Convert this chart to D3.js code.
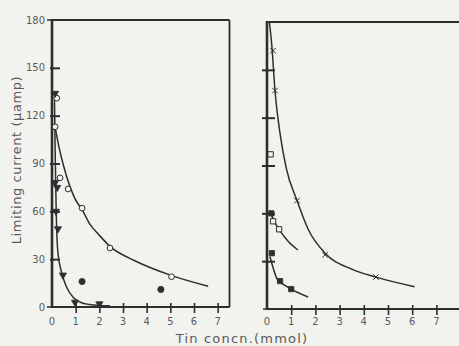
<!DOCTYPE html>
<html>
<head>
<meta charset="utf-8">
<script src="https://cdn.jsdelivr.net/npm/d3@7"></script>
<style>
  html, body { margin: 0; padding: 0; background: #f2f2ef; }
  svg { display: block; }
</style>
</head>
<body>
<div id="chart"></div>
<script>
// ticks
const xTicks = [0, 1, 2, 3, 4, 5, 6, 7];
const yTicks = [0, 30, 60, 90, 120, 150, 180];

// left panel: curves
const leftUpperCurve = [[0.13,113],[0.3,100],[0.5,88],[0.97,68],[1.27,61],[1.6,52],[2.0,45],[2.45,38],[3.5,29],[5.0,20],[6.6,13]];
const leftLowerCurve = [[0.1,135],[0.14,92],[0.18,58],[0.25,34],[0.4,22],[0.6,13],[0.9,6],[1.2,3],[1.6,1.5],[2.0,1],[2.45,0.8]];
// left panel: markers
const leftOpenCircles = [[0.2,131],[0.13,113],[0.34,81],[0.68,74],[1.27,62],[2.45,37],[5.05,19]];
const leftFilledCircles = [[1.27,16],[4.6,11]];
const leftFilledTriangles = [[0.13,134],[0.13,78],[0.22,75],[0.17,60],[0.25,49],[0.46,20],[0.97,3],[2.0,2]];

// right panel: curves
const rightUpperCurve = [[0.1,180],[0.2,165],[0.33,137],[0.54,110],[0.8,88],[1.24,68],[1.7,50],[2.4,35],[3.5,25],[4.5,20],[6.1,14]];
const rightMiddleCurve = [[0.15,60],[0.3,55],[0.54,49],[0.9,42],[1.28,37]];
const rightLowerCurve = [[0.12,33],[0.25,26],[0.41,19],[0.54,17],[1.0,12.5],[1.7,7.5]];
// right panel: markers
const rightCrosses = [[0.25,162],[0.33,137],[1.24,68],[2.4,34],[4.5,20]];
const rightOpenSquares = [[0.15,97],[0.25,55],[0.5,50]];
const rightFilledSquares = [[0.18,60],[0.2,35],[0.54,17.5],[1.0,12.5]];

const W = 459, H = 346;
const ink = "#2e2e2e";
const bg = "#f2f2ef";
const textColor = "#5a5a5a";
const font = "'DejaVu Sans', sans-serif";

const svg = d3.select("#chart").append("svg")
  .attr("width", W).attr("height", H)
  .style("background", bg);

const panels = [
  { x: d3.scaleLinear().domain([0, 7.5]).range([52, 229.5]),
    y: d3.scaleLinear().domain([0, 180]).range([307, 20]),
    labels: true, rightBorder: true, xEnd: 229.5 },
  { x: d3.scaleLinear().domain([0, 8]).range([267, 460.6]),
    y: d3.scaleLinear().domain([0, 180]).range([309, 22]),
    labels: false, rightBorder: false, xEnd: 459 }
];

function drawPanel(p) {
  const g = svg.append("g");
  const x0 = p.x(0), y0 = p.y(0), yTop = p.y(180);

  // y axis ticks (crossing the axis line)
  const yAxis = g.append("g")
    .attr("transform", `translate(${x0},0)`)
    .call(d3.axisLeft(p.y).tickValues(yTicks.filter(v => v > 0 && v < 180)).tickSize(0)
      .tickFormat(""));
  yAxis.select(".domain").remove();
  yAxis.selectAll("line")
    .attr("x1", p.labels ? -2 : -5)
    .attr("x2", 8)
    .attr("stroke", ink).attr("stroke-width", 2);

  if (p.labels) {
    g.selectAll(".ylab").data(yTicks).enter().append("text")
      .attr("x", x0 - 7)
      .attr("y", d => p.y(d) + 3.5)
      .attr("text-anchor", "end")
      .attr("font-family", font)
      .attr("font-size", 10)
      .attr("fill", textColor)
      .text(d => d);
    // short outside ticks for 0 and 180
    g.selectAll(".yend").data([0, 180]).enter().append("line")
      .attr("x1", x0 - 5).attr("x2", x0)
      .attr("y1", d => p.y(d)).attr("y2", d => p.y(d))
      .attr("stroke", ink).attr("stroke-width", 1.5);
  } else {
    g.append("line")
      .attr("x1", x0 - 4).attr("x2", x0)
      .attr("y1", y0).attr("y2", y0)
      .attr("stroke", ink).attr("stroke-width", 1.5);
  }

  // x axis
  const xAxis = g.append("g")
    .attr("transform", `translate(0,${y0})`)
    .call(d3.axisBottom(p.x).tickValues(xTicks.filter(v => v > 0)).tickSize(0).tickFormat(""));
  xAxis.select(".domain").remove();
  xAxis.selectAll("line")
    .attr("y1", -4).attr("y2", 6)
    .attr("stroke", ink).attr("stroke-width", 1.6);

  g.selectAll(".xlab").data(xTicks).enter().append("text")
    .attr("x", d => p.x(d))
    .attr("y", 325)
    .attr("text-anchor", "middle")
    .attr("font-family", font)
    .attr("font-size", 10)
    .attr("fill", textColor)
    .text(d => d);

  // frame
  g.append("line").attr("x1", x0).attr("x2", p.xEnd).attr("y1", y0).attr("y2", y0)
    .attr("stroke", ink).attr("stroke-width", 2);
  g.append("line").attr("x1", x0).attr("x2", p.xEnd).attr("y1", yTop).attr("y2", yTop)
    .attr("stroke", ink).attr("stroke-width", 1.8);
  g.append("line").attr("x1", x0).attr("x2", x0).attr("y1", yTop - 1).attr("y2", y0 + 1)
    .attr("stroke", ink).attr("stroke-width", 2.6);
  if (p.rightBorder) {
    g.append("line").attr("x1", p.xEnd).attr("x2", p.xEnd).attr("y1", yTop).attr("y2", y0)
      .attr("stroke", ink).attr("stroke-width", 1.8);
  }
  return g;
}

function drawCurve(g, p, pts) {
  const line = d3.line()
    .x(d => p.x(d[0]))
    .y(d => p.y(d[1]))
    .curve(d3.curveMonotoneX);
  g.append("path").datum(pts)
    .attr("fill", "none")
    .attr("stroke", ink)
    .attr("stroke-width", 1.5)
    .attr("d", line);
}

function drawMarkers(g, p, pts, type, filled, size, rotate) {
  const sym = d3.symbol().type(type).size(size);
  g.selectAll(null).data(pts).enter().append("path")
    .attr("d", sym)
    .attr("transform", d => `translate(${p.x(d[0])},${p.y(d[1])}) rotate(${rotate || 0})`)
    .attr("fill", filled ? ink : bg)
    .attr("stroke", ink)
    .attr("stroke-width", filled ? 0.8 : 1);
}

const gL = drawPanel(panels[0]);
drawCurve(gL, panels[0], leftUpperCurve);
drawCurve(gL, panels[0], leftLowerCurve);
drawMarkers(gL, panels[0], leftOpenCircles, d3.symbolCircle, false, 26);
drawMarkers(gL, panels[0], leftFilledCircles, d3.symbolCircle, true, 30);
drawMarkers(gL, panels[0], leftFilledTriangles, d3.symbolTriangle, true, 22, 180);

const gR = drawPanel(panels[1]);
drawCurve(gR, panels[1], rightUpperCurve);
drawCurve(gR, panels[1], rightMiddleCurve);
drawCurve(gR, panels[1], rightLowerCurve);
drawMarkers(gR, panels[1], rightCrosses, d3.symbolTimes, false, 22);
drawMarkers(gR, panels[1], rightOpenSquares, d3.symbolSquare, false, 28);
drawMarkers(gR, panels[1], rightFilledSquares, d3.symbolSquare, true, 28);

// axis titles
svg.append("text")
  .attr("transform", "translate(21,160) rotate(-90)")
  .attr("text-anchor", "middle")
  .attr("font-family", font)
  .attr("font-size", 13)
  .attr("letter-spacing", 0.6)
  .attr("fill", textColor)
  .text("Limiting current (μamp)");

svg.append("text")
  .attr("x", 242)
  .attr("y", 343)
  .attr("text-anchor", "middle")
  .attr("font-family", font)
  .attr("font-size", 13)
  .attr("letter-spacing", 1.2)
  .attr("fill", textColor)
  .text("Tin concn.(mmol)");
</script>
</body>
</html>
